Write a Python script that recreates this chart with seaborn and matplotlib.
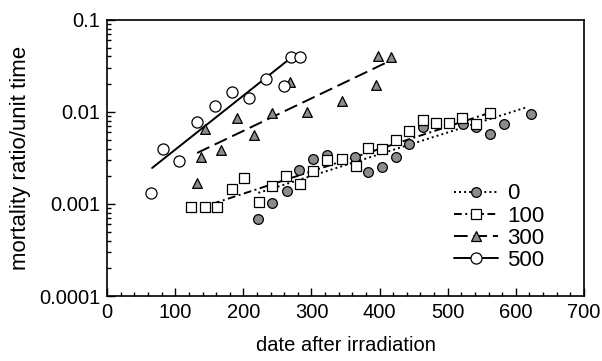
import matplotlib
matplotlib.use("Agg")
import matplotlib.pyplot as plt
from matplotlib.lines import Line2D
from matplotlib.ticker import FixedLocator, FixedFormatter, LogLocator, NullFormatter, MultipleLocator
import seaborn as sns
import pandas as pd

# points (day, mortality ratio per unit time)
days_0 = [222, 242, 264, 282, 302, 323, 364, 383, 404, 424, 443, 464, 522, 542, 562, 583, 622]
rate_0 = [0.00069, 0.00103, 0.00138, 0.00234, 0.00308, 0.00341, 0.00324, 0.00223, 0.00252, 0.00324,
          0.00449, 0.00687, 0.00741, 0.00687, 0.00577, 0.00741, 0.0095]

days_100 = [123, 144, 161, 183, 201, 223, 242, 263, 283, 302, 323, 345, 365, 383, 404, 424, 443,
            464, 483, 502, 521, 542, 562]
rate_100 = [0.00093, 0.00093, 0.00093, 0.00146, 0.00192, 0.00105, 0.00157, 0.00201, 0.00165, 0.00229,
            0.00301, 0.00308, 0.00259, 0.00406, 0.00396, 0.00496, 0.00621, 0.00818, 0.00759, 0.00759,
            0.00861, 0.00741, 0.00975]

days_300 = [132, 138, 144, 167, 191, 216, 242, 269, 294, 345, 394, 398, 417]
rate_300 = [0.00169, 0.00324, 0.00653, 0.00386, 0.00861, 0.00562, 0.00975, 0.0212, 0.0100, 0.0132,
            0.0197, 0.0406, 0.0396]

days_500 = [65, 82, 106, 132, 159, 183, 208, 233, 260, 270, 283]
rate_500 = [0.00132, 0.00396, 0.00293, 0.00778, 0.0116, 0.0165, 0.0142, 0.0229, 0.0192, 0.0396, 0.0396]

# fitted trend lines, end points
fit_days_0 = [222, 617]
fit_rate_0 = [0.00132, 0.0113]
fit_days_100 = [154, 562]
fit_rate_100 = [0.0010, 0.0098]
fit_days_300 = [132, 418]
fit_rate_300 = [0.00358, 0.0367]
fit_days_500 = [66, 266]
fit_rate_500 = [0.00246, 0.0367]

doses = ["0", "100", "300", "500"]

sns.set_style("ticks")
plt.rcParams["font.family"] = ["Liberation Sans", "DejaVu Sans"]
plt.rcParams["text.color"] = "black"
plt.rcParams["axes.labelcolor"] = "black"

fig, ax = plt.subplots(figsize=(6.02, 3.61), dpi=100)
fig.subplots_adjust(left=0.178, right=0.970, top=0.945, bottom=0.180)

series = [
    (days_0, rate_0, fit_days_0, fit_rate_0, "o", "#8c8c8c", (0, (1, 1.6)), 7),
    (days_100, rate_100, fit_days_100, fit_rate_100, "s", "white", (0, (4, 1.8, 1, 1.8)), 7),
    (days_300, rate_300, fit_days_300, fit_rate_300, "^", "#8c8c8c", (0, (7, 3)), 7),
    (days_500, rate_500, fit_days_500, fit_rate_500, "o", "white", "-", 8),
]

handles = []
for dose, (dx, ry, fx, fy, mk, fc, ls, ms) in zip(doses, series):
    pts = pd.DataFrame({"day": dx, "rate": ry})
    fit = pd.DataFrame({"day": fx, "rate": fy})
    sns.lineplot(data=fit, x="day", y="rate", ax=ax, color="black", linewidth=1.4,
                 linestyle=ls, zorder=2)
    sns.scatterplot(data=pts, x="day", y="rate", ax=ax, marker=mk, s=ms ** 2,
                    facecolor=fc, edgecolor="black", linewidth=0.9, zorder=3)
    handles.append(Line2D([], [], color="black", linestyle=ls, linewidth=1.4, marker=mk,
                          markersize=ms, markerfacecolor=fc, markeredgecolor="black",
                          markeredgewidth=0.9, label=dose))

ax.set_yscale("log")
ax.set_xlim(0, 700)
ax.set_ylim(0.0001, 0.1)

ax.xaxis.set_major_locator(MultipleLocator(100))
ax.xaxis.set_minor_locator(MultipleLocator(20))
ax.yaxis.set_major_locator(FixedLocator([0.0001, 0.001, 0.01, 0.1]))
ax.yaxis.set_major_formatter(FixedFormatter(["0.0001", "0.001", "0.01", "0.1"]))
ax.yaxis.set_minor_locator(LogLocator(base=10, subs=range(2, 10)))
ax.yaxis.set_minor_formatter(NullFormatter())

ax.tick_params(which="both", direction="in", colors="black", labelsize=14.5, width=1)
ax.tick_params(which="major", length=6, pad=5)
ax.tick_params(which="minor", length=3)
for sp in ax.spines.values():
    sp.set_color("black")
    sp.set_linewidth(1.2)

ax.set_xlabel("date after irradiation", fontsize=14.5, labelpad=10)
ax.set_ylabel("mortality ratio/unit time", fontsize=16, labelpad=6)

ax.legend(handles=handles, loc="lower right", bbox_to_anchor=(0.95, 0.035), frameon=False,
          fontsize=16, handlelength=2.0, handletextpad=0.4, labelspacing=0.05, borderpad=0.2)

plt.savefig("out.png", dpi=100)
